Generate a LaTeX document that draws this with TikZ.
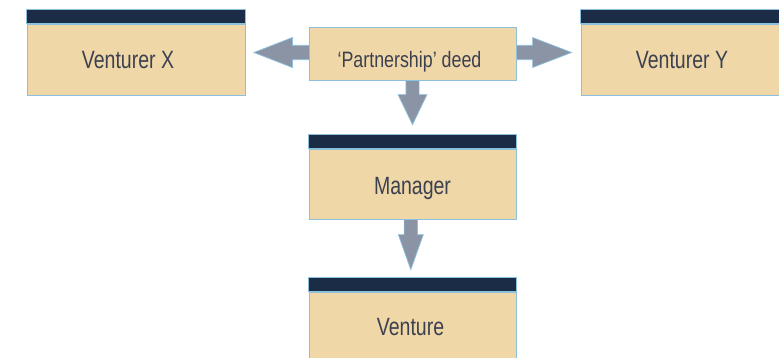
\documentclass[tikz,border=0pt]{standalone}
\usepackage{fontspec}
\setmainfont{Liberation Sans}[FakeStretch=0.78]
\newfontfamily\deedfont{Liberation Sans}[FakeStretch=0.80]
\definecolor{boxfill}{HTML}{F0D7A8}
\definecolor{boxline}{HTML}{8CC0DC}
\definecolor{barcol}{HTML}{1B2C47}
\definecolor{arrcol}{HTML}{8A94A4}
\definecolor{txtcol}{HTML}{3C4150}
\tikzset{
  box/.style={draw=boxline, fill=boxfill, line width=0.8pt, inner sep=0pt,
    text=txtcol, font=\fontsize{25}{28}\selectfont, text height=17.9pt, text depth=0pt},
  deedbox/.style={box, font=\deedfont\fontsize{22.3}{26}\selectfont, text height=27pt, text depth=0pt},
  topbar/.style={fill=barcol, draw=boxline, line width=0.6pt},
  fatarrow/.style={fill=arrcol, draw=boxline, line width=0.7pt, line join=miter},
}
\begin{document}
\begin{tikzpicture}[x=1pt,y=-1pt]
\useasboundingbox (0,0) rectangle (779,357);
% nodes
\node[box, minimum width=218pt, minimum height=71pt] (vx) at (136,59.5) {\hspace*{-16pt}Venturer X};
\node[box, minimum width=218pt, minimum height=71pt] (vy) at (690,59.5) {\hspace*{-16pt}Venturer Y};
\node[deedbox, minimum width=207pt, minimum height=53pt] (deed) at (412.5,53.5) {\hspace*{-6pt}‘Partnership’ deed};
\node[box, minimum width=207pt, minimum height=70pt, text height=20.5pt] (mgr) at (412.5,184) {Manager};
\node[box, minimum width=207pt, minimum height=70pt] (ven) at (412.5,327) {\hspace*{-4pt}Venture};
% bars
\foreach \n in {vx,vy,mgr,ven}{
  \draw[topbar] (\n.north west) rectangle ([yshift=14.5pt]\n.north east);
}
% arrows
\coordinate (sl) at ([xshift=2pt,yshift=1pt]deed.west);
\coordinate (tl) at ([xshift=8.5pt,yshift=1pt]deed.west -| vx.east);
\draw[fatarrow] ([yshift=7.2pt]sl) -- ([xshift=38.5pt,yshift=7.2pt]tl) -- ([xshift=38.5pt,yshift=15pt]tl)
  -- (tl) -- ([xshift=38.5pt,yshift=-15pt]tl) -- ([xshift=38.5pt,yshift=-7.2pt]tl) -- ([yshift=-7.2pt]sl) -- cycle;
\coordinate (sr) at ([xshift=-2pt,yshift=1pt]deed.east);
\coordinate (tr) at ([xshift=-9pt,yshift=1pt]deed.east -| vy.west);
\draw[fatarrow] ([yshift=7.2pt]sr) -- ([xshift=-39pt,yshift=7.2pt]tr) -- ([xshift=-39pt,yshift=15pt]tr)
  -- (tr) -- ([xshift=-39pt,yshift=-15pt]tr) -- ([xshift=-39pt,yshift=-7.2pt]tr) -- ([yshift=-7.2pt]sr) -- cycle;
\coordinate (sd) at ([xshift=0pt,yshift=2pt]deed.south);
\coordinate (td) at ([xshift=0pt,yshift=24pt]deed.south |- mgr.north);
\draw[fatarrow] ([xshift=-6.6pt]sd) -- ([xshift=-6.6pt,yshift=30pt]td) -- ([xshift=-14.5pt,yshift=30pt]td)
  -- (td) -- ([xshift=14.5pt,yshift=30pt]td) -- ([xshift=6.6pt,yshift=30pt]td) -- ([xshift=6.6pt]sd) -- cycle;
\coordinate (sm) at ([xshift=-1.7pt,yshift=2pt]mgr.south);
\coordinate (tm) at ([xshift=-1.7pt,yshift=22pt]ven.north);
\draw[fatarrow] ([xshift=-6.7pt]sm) -- ([xshift=-6.7pt,yshift=35pt]tm) -- ([xshift=-12.5pt,yshift=35pt]tm)
  -- (tm) -- ([xshift=12.5pt,yshift=35pt]tm) -- ([xshift=6.7pt,yshift=35pt]tm) -- ([xshift=6.7pt]sm) -- cycle;
% redraw boxes over arrow starts
\node[deedbox, minimum width=207pt, minimum height=53pt] at (deed) {\hspace*{-6pt}‘Partnership’ deed};
\node[box, minimum width=207pt, minimum height=70pt, text height=20.5pt] at (mgr) {Manager};
\end{tikzpicture}
\end{document}
